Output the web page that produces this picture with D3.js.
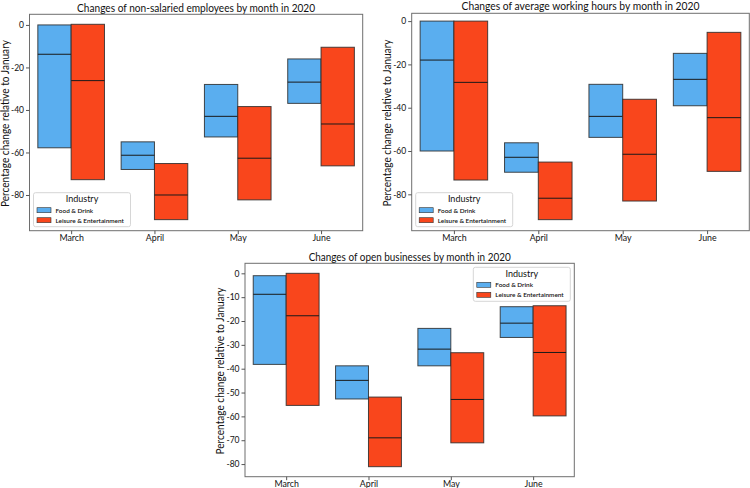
<!DOCTYPE html>
<html>
<head>
<meta charset="utf-8">
<script src="https://cdn.jsdelivr.net/npm/d3@7"></script>
<style>
  html, body { margin: 0; padding: 0; background: #fff; }
  svg { display: block; }
  text { font-family: "Lato", "Open Sans", sans-serif; fill: #111; }
</style>
</head>
<body>
<svg id="chart" width="750" height="488"></svg>
<script>
// ---------------- DATA ----------------
const months = ["March", "April", "May", "June"];
const industries = ["Food & Drink", "Leisure & Entertainment"];
const industryColors = ["#5aaeef", "#f9461c"];

const yTicks20 = [0, -20, -40, -60, -80];
const yTicks10 = [0, -10, -20, -30, -40, -50, -60, -70, -80];

// Non-salaried employees
const empFoodTop = [0, -55, -28, -16];
const empFoodMed = [-13.8, -61.3, -43, -26.9];
const empFoodBot = [-57.8, -68, -52.7, -36.9];
const empLeisTop = [0.3, -65.2, -38.4, -10.5];
const empLeisMed = [-26.2, -80, -62.7, -46.6];
const empLeisBot = [-72.8, -91.6, -82.3, -66.3];

// Average working hours
const hrsFoodTop = [0, -56.2, -29.2, -14.9];
const hrsFoodMed = [-18, -62.9, -44, -26.9];
const hrsFoodBot = [-60, -69.8, -53.7, -39.1];
const hrsLeisTop = [0, -65.1, -36.1, -5.2];
const hrsLeisMed = [-28.3, -81.8, -61.5, -44.6];
const hrsLeisBot = [-73.4, -91.7, -83.1, -69.4];

// Open businesses
const bizFoodTop = [-1, -38.8, -23.1, -14];
const bizFoodMed = [-8.8, -44.9, -31.8, -20.9];
const bizFoodBot = [-38.2, -52.7, -38.8, -26.9];
const bizLeisTop = [0, -51.9, -33.3, -13.6];
const bizLeisMed = [-17.8, -69, -52.9, -33.2];
const bizLeisBot = [-55.4, -81.1, -71.1, -59.8];

const titles = [
  "Changes of non-salaried employees by month in 2020",
  "Changes of average working hours by month in 2020",
  "Changes of open businesses by month in 2020"
];
const yLabel = "Percentage change relative to January";

// ---------------- LAYOUT ----------------
const svg = d3.select("#chart");

const panels = [
  { x0: 29.5, x1: 362.7, y0: 14.3, y1: 230.7, ydom: [-96.8, 5.0], ticks: yTicks20,
    title: titles[0], titleLen: 238, titleY: 11.5, legend: "ll",
    series: [[empFoodTop, empFoodMed, empFoodBot], [empLeisTop, empLeisMed, empLeisBot]] },
  { x0: 411.7, x1: 749.3, y0: 13.3, y1: 230.7, ydom: [-96.8, 3.6], ticks: yTicks20,
    title: titles[1], titleLen: 238, titleY: 9.5, legend: "ll",
    series: [[hrsFoodTop, hrsFoodMed, hrsFoodBot], [hrsLeisTop, hrsLeisMed, hrsLeisBot]] },
  { x0: 245, x1: 574.3, y0: 263.3, y1: 476.7, ydom: [-85.3, 4.2], ticks: yTicks10,
    title: titles[2], titleLen: 202, titleY: 260.5, legend: "ur",
    series: [[bizFoodTop, bizFoodMed, bizFoodBot], [bizLeisTop, bizLeisMed, bizLeisBot]] }
];

const barW = 0.4;

panels.forEach(p => {
  const x = d3.scaleLinear().domain([-0.5, 3.5]).range([p.x0, p.x1]);
  const y = d3.scaleLinear().domain(p.ydom).range([p.y1, p.y0]);
  const g = svg.append("g");

  // bars
  p.series.forEach((s, si) => {
    const [tops, meds, bots] = s;
    const offset = si === 0 ? -barW : 0;
    const bg = g.append("g");
    bg.selectAll("rect").data(months).join("rect")
      .attr("x", (d, i) => x(i + offset))
      .attr("width", (d, i) => x(i + offset + barW) - x(i + offset))
      .attr("y", (d, i) => y(tops[i]))
      .attr("height", (d, i) => y(bots[i]) - y(tops[i]))
      .attr("fill", industryColors[si])
      .attr("stroke", "#2a2a2a")
      .attr("stroke-opacity", 0.85)
      .attr("stroke-width", 1);
    bg.selectAll("line").data(months).join("line")
      .attr("x1", (d, i) => x(i + offset))
      .attr("x2", (d, i) => x(i + offset + barW))
      .attr("y1", (d, i) => y(meds[i]))
      .attr("y2", (d, i) => y(meds[i]))
      .attr("stroke", "#1a1a1a")
      .attr("stroke-width", 1);
  });

  // frame
  g.append("rect")
    .attr("x", p.x0).attr("y", p.y0)
    .attr("width", p.x1 - p.x0).attr("height", p.y1 - p.y0)
    .attr("fill", "none").attr("stroke", "#6e6e6e").attr("stroke-width", 1);

  // y axis
  const yAxis = d3.axisLeft(y).tickValues(p.ticks).tickSize(3.5).tickPadding(2)
    .tickFormat(d => d === 0 ? "0" : "-" + Math.abs(d));
  const ya = g.append("g").attr("transform", `translate(${p.x0},0)`).call(yAxis);
  ya.select(".domain").remove();
  ya.selectAll(".tick line").attr("stroke", "#555");
  ya.selectAll(".tick text").attr("font-size", 8.5).attr("font-family", "Lato, sans-serif").attr("fill", "#222");

  // x axis
  const xAxis = d3.axisBottom(x).tickValues(d3.range(months.length)).tickSize(3.5).tickPadding(2)
    .tickFormat(i => months[i]);
  const xa = g.append("g").attr("transform", `translate(0,${p.y1})`).call(xAxis);
  xa.select(".domain").remove();
  xa.selectAll(".tick line").attr("stroke", "#555");
  xa.selectAll(".tick text")
    .attr("y", 7).attr("dy", null).attr("dominant-baseline", "central")
    .attr("font-size", 8.8).attr("font-family", "Lato, sans-serif").attr("fill", "#222");

  // title
  g.append("text")
    .attr("x", (p.x0 + p.x1) / 2).attr("y", p.titleY)
    .attr("text-anchor", "middle")
    .attr("font-size", 11.5)
    .attr("textLength", p.titleLen).attr("lengthAdjust", "spacingAndGlyphs")
    .text(p.title);

  // y label (baseline placed explicitly; caps extend to the left)
  const cy = (p.y0 + p.y1) / 2 + 1;
  g.append("text")
    .attr("transform", `translate(${p.x0 - 20.8},${cy}) rotate(-90)`)
    .attr("text-anchor", "middle")
    .attr("font-size", 10.5)
    .attr("textLength", 167).attr("lengthAdjust", "spacingAndGlyphs")
    .text(yLabel);

  // legend
  const lw = 97, lh = 34;
  const lx = p.legend === "ll" ? p.x0 + 4 : p.x1 - 4 - lw;
  const ly = p.legend === "ll" ? p.y1 - 4 - lh : p.y0 + 4;
  const lg = g.append("g").attr("transform", `translate(${lx},${ly})`);
  lg.append("rect").attr("width", lw).attr("height", lh).attr("rx", 2)
    .attr("fill", "#fff").attr("fill-opacity", 0.85).attr("stroke", "#d6d6d6").attr("stroke-width", 1);
  lg.append("text").attr("x", lw / 2).attr("y", 9.5).attr("text-anchor", "middle")
    .attr("font-size", 9).text("Industry");
  industries.forEach((name, k) => {
    const ry = 15 + k * 10;
    lg.append("rect").attr("x", 3.5).attr("y", ry).attr("width", 14).attr("height", 5)
      .attr("fill", industryColors[k]).attr("stroke", "#333").attr("stroke-width", 0.6);
    lg.append("text").attr("x", 22).attr("y", ry + 2.7).attr("dominant-baseline", "central")
      .attr("font-size", 6.4).attr("font-weight", 600)
      .attr("font-family", "DejaVu Sans, sans-serif").attr("fill", "#222")
      .text(name);
  });
});
</script>
</body>
</html>
